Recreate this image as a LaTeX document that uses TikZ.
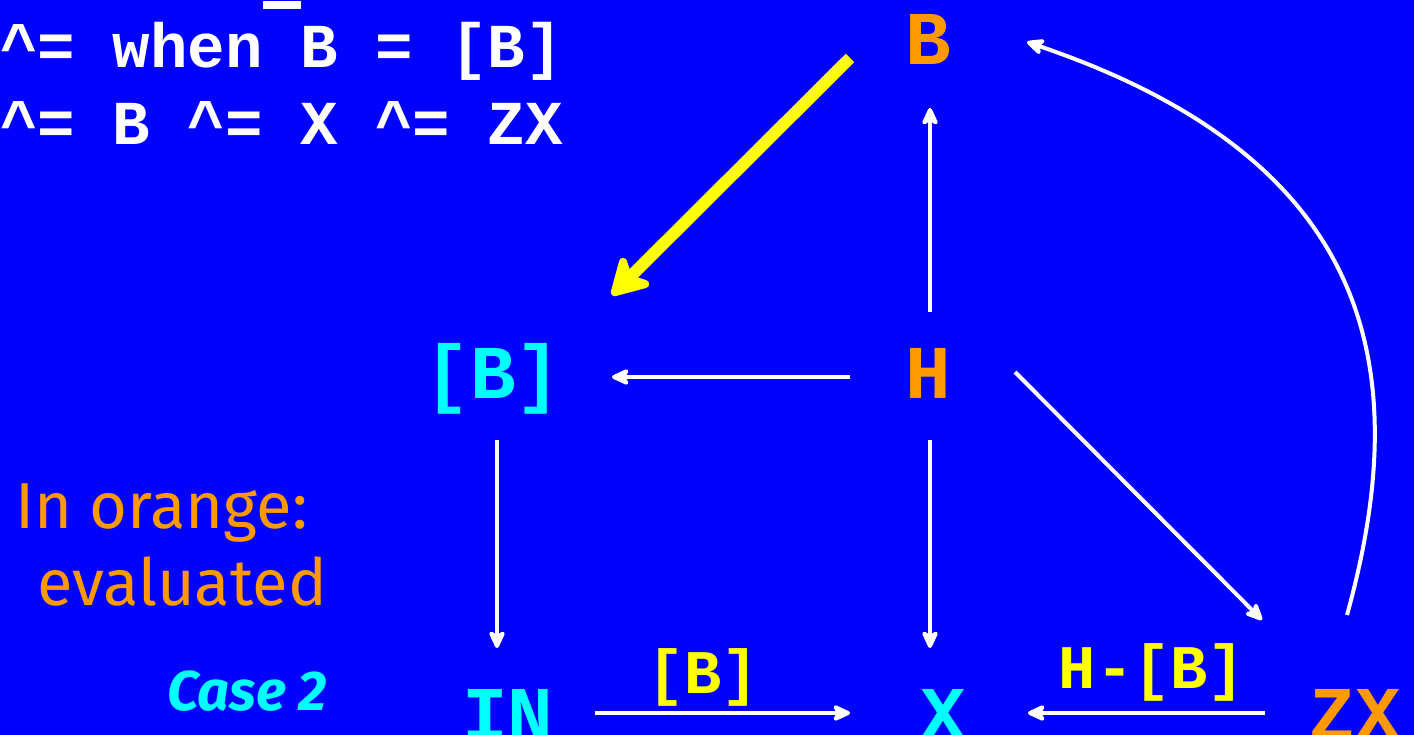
\documentclass[tikz,border=0pt]{standalone}
\usepackage{fontspec}
\usetikzlibrary{arrows.meta,calc}
\newfontfamily\cour{Liberation Mono}
\newfontfamily\comic{Fira Sans}
\definecolor{bg}{RGB}{0,0,255}
\definecolor{orng}{RGB}{255,153,0}
\definecolor{cyn}{RGB}{0,255,255}
\definecolor{yel}{RGB}{255,255,0}
\tikzset{
  code/.style={text=white,inner sep=0pt,anchor=base west,font=\cour\bfseries\fontsize{62.5}{62.5}\selectfont},
  nd/.style={inner sep=0pt,anchor=base,font=\cour\bfseries\fontsize{76}{76}\selectfont},
  lab/.style={inner sep=0pt,anchor=base,text=yel,font=\cour\bfseries\fontsize{62}{62}\selectfont},
  note/.style={inner sep=0pt,anchor=base west,text=orng,font=\comic\fontsize{65}{65}\selectfont},
  wa/.style={draw=white,line width=4pt,-{Stealth[length=22pt,width=20pt,inset=6pt,round]}},
  ya/.style={draw=yel,line width=12pt,-{Stealth[length=44pt,width=50pt,inset=12pt,round]}},
}
\begin{document}
\begin{tikzpicture}[x=1pt,y=-1pt]
\fill[bg] (0,0) rectangle (1414,735);
\useasboundingbox (0,0) rectangle (1414,735);
% code lines
\node[code] (l1) at (0,68) {\^{}= when B = [B]};
\node[code] (l2) at (0,145) {\^{}= B \^{}= X \^{}= ZX};
\fill[white] (263,1) rectangle (301,9);
% nodes
\node[nd,text=orng] (B) at (928,65) {B};
\node[nd,text=cyn] (Bb) at (493,398) {[B]};
\node[nd,text=orng] (H) at (928,398) {H};
\node[nd,text=cyn] (IN) at (508,739) {IN};
\node[nd,text=cyn] (X) at (943,739) {X};
\node[nd,text=orng] (ZX) at (1355,739) {ZX};
\node[lab] (lab1) at (703,693) {[B]};
\node[lab] (lab2) at (1152,688) {H-[B]};
% notes
\node[note] (n1) at (15,528) {In orange:};
\node[note] (n2) at (37,605) {evaluated};
\node[inner sep=0pt,anchor=base,text=cyn,font=\comic\bfseries\itshape\fontsize{56}{56}\selectfont] (case) at (247,710) {Case 2};
% arrows
\draw[ya] ($(B.base)+(-78,-7)$) -- ($(Bb.base)+(119,-103)$);
\draw[wa] ($(H.base)+(2,-86)$) -- ($(B.base)+(2,43)$);
\draw[wa] ($(H.base)+(-78,-21)$) -- ($(Bb.base)+(119,-21)$);
\draw[wa] ($(H.base)+(2,42)$) -- ($(X.base)+(-13,-91)$);
\draw[wa] ($(H.base)+(87,-26)$) -- ($(ZX.base)+(-93,-119)$);
\draw[wa] ($(Bb.base)+(4,42)$) -- ($(IN.base)+(-11,-91)$);
\draw[wa] ($(IN.base)+(87,-26)$) -- ($(X.base)+(-93,-26)$);
\draw[wa] ($(ZX.base)+(-90,-26)$) -- ($(X.base)+(85,-26)$);
\draw[wa] ($(ZX.base)+(-8,-124)$) .. controls (1415,370) and (1375,160) .. ($(B.base)+(99,-23)$);
\end{tikzpicture}
\end{document}
